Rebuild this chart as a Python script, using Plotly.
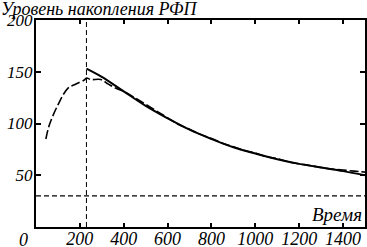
import plotly.graph_objects as go

# Model curve (solid)
model_x = [230, 300, 400, 500, 600, 700, 800, 900, 1000, 1100, 1200, 1300, 1400, 1500]
model_y = [153, 145, 131, 117, 105, 94, 85, 77, 71, 65.5, 61, 57.5, 54, 50]

# Measured curve (dashed)
meas_x = [45, 60, 100, 145, 180, 220, 230, 250, 295, 330, 365, 400, 450, 500, 550, 600, 650, 700,
          750, 800, 850, 900, 950, 1000, 1050, 1100, 1150, 1200, 1250, 1300, 1350, 1400, 1450, 1500]
meas_y = [85, 98, 118, 134, 138, 142, 144, 142.5, 142.5, 138, 134, 131, 125, 118.5, 112, 105.5, 99, 94.5,
          89.5, 85.5, 81, 77.5, 74, 71.5, 68, 66, 63, 61, 59.5, 57.5, 56, 55, 54, 53]

# Reference lines
vline_x = [230, 230]
vline_y = [0, 200]
hline_x = [0, 1500]
hline_y = [30, 30]

x_ticks = [200, 400, 600, 800, 1000, 1200, 1400]
x_labels = ["200", "400", "600", "800", "1000", "1200", "1400"]
y_ticks = [50, 100, 150, 200]
y_labels = ["50", "100", "150", "200"]

font_fam = "'Liberation Serif', 'Times New Roman', Times, serif"


def it(s):
    return "<i>" + s + "</i>"


fig = go.Figure()
fig.add_trace(go.Scatter(x=vline_x, y=vline_y, mode="lines",
                         line=dict(color="black", width=1, dash="5px,3px")))
fig.add_trace(go.Scatter(x=hline_x, y=hline_y, mode="lines",
                         line=dict(color="black", width=1.3, dash="5px,3px")))
fig.add_trace(go.Scatter(x=model_x, y=model_y, mode="lines", line_shape="spline",
                         line=dict(color="black", width=2)))
fig.add_trace(go.Scatter(x=meas_x, y=meas_y, mode="lines", line_shape="spline",
                         line=dict(color="black", width=1.6, dash="9px,3px")))

fig.update_layout(
    width=367, height=247,
    margin=dict(l=36, r=2, t=20, b=20),
    paper_bgcolor="white", plot_bgcolor="white",
    showlegend=False,
    font=dict(family=font_fam, size=17, color="black"),
    xaxis=dict(range=[0, 1500], tickvals=x_ticks, ticktext=[it(s) for s in x_labels],
               ticks="inside", ticklen=4, tickwidth=1.5, ticklabelstandoff=-6,
               tickcolor="black", showline=True, linecolor="black", linewidth=2, mirror="ticks",
               showgrid=False, zeroline=False, automargin=False,
               tickfont=dict(family=font_fam, size=18)),
    yaxis=dict(range=[0, 200], tickvals=y_ticks, ticktext=[it(s) for s in y_labels],
               ticks="inside", ticklen=5, tickwidth=2, ticklabelstandoff=-2,
               tickcolor="black", showline=True, linecolor="black", linewidth=2, mirror="ticks",
               showgrid=False, zeroline=False, automargin=False,
               tickfont=dict(family=font_fam, size=17)),
    annotations=[
        dict(text=it("Уровень накопления РФП"), xref="paper", yref="paper", x=0, y=1,
             xanchor="left", yanchor="top", showarrow=False, xshift=-37, yshift=23,
             font=dict(family=font_fam, size=18)),
        dict(text=it("Время"), xref="x", yref="y", x=1495, y=12.5, xanchor="right", yanchor="middle",
             showarrow=False, font=dict(family=font_fam, size=19)),
        dict(text=it("0"), xref="x", yref="paper", x=0, y=0, xanchor="center", yanchor="top",
             showarrow=False, xshift=-13, yshift=-1,
             font=dict(family=font_fam, size=18)),
    ],
)

fig.write_html("out.html", config={"displayModeBar": False},
               post_script="document.body.style.margin='0';")
